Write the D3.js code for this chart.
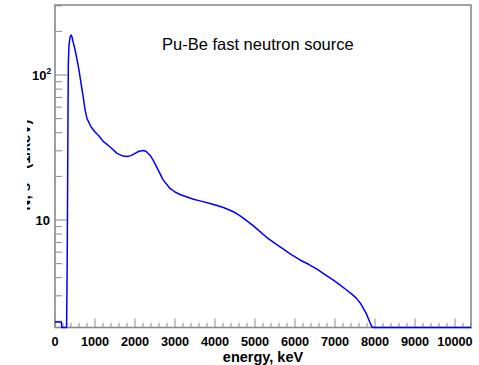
<!DOCTYPE html>
<html><head><meta charset="utf-8">
<script src="https://cdn.jsdelivr.net/npm/d3@7"></script>
<style>body{margin:0;background:#fff}svg{display:block}</style>
</head><body>
<svg id="c" width="479" height="365"></svg>
<script>
const energy = [0,160,170,290,305,320,333,350,375,400,425,450,500,550,600,650,700,750,800,900,1000,1100,1200,1400,1550,1700,1800,1900,2000,2100,2200,2275,2375,2450,2550,2700,2875,3000,3125,3300,3460,3650,3875,4050,4210,4460,4600,4710,4830,4960,5120,5290,5500,5710,5900,6125,6340,6540,6750,6960,7130,7290,7420,7540,7630,7710,7780,7830,7880,7920,7960,8000,10400];
const counts = [1.98,1.98,0,0,5,30,120,160,182,189,183,170,150,128,108,88,72,58,50,44,40.5,38,35,31.5,28.8,27.6,27.4,27.8,28.8,29.8,30.2,29.8,28,26,23,19,16.5,15.6,15,14.4,13.9,13.5,13.0,12.6,12.2,11.4,10.8,10.3,9.7,9.1,8.35,7.6,6.9,6.3,5.8,5.3,4.95,4.6,4.2,3.85,3.55,3.29,3.08,2.88,2.68,2.46,2.27,2.1,1.95,1.84,1.7,0,0];
const xTicks = [0,1000,2000,3000,4000,5000,6000,7000,8000,9000,10000];
const yTickLabels = [{v:10, base:"10", sup:""},{v:100, base:"10", sup:"2"}];
const titleText = "Pu-Be fast neutron source";
const xTitle = "energy, keV";
const yTitle = "N, s\u207B\u00B9 (1/keV)";

const L=55,R=471,T=5,B=327.5;
const xMin=0,xMax=10400,yMin=1.814,yMax=304;
const svg=d3.select("#c");
const x=d3.scaleLinear().domain([xMin,xMax]).range([L,R]);
const y=d3.scaleLog().domain([yMin,yMax]).range([B,T]);
const font="'Liberation Sans', Arial, Helvetica, sans-serif";
const gray="#8a8a8a";

// frame
svg.append("rect").attr("x",L).attr("y",T).attr("width",R-L).attr("height",B-T)
  .attr("fill","none").attr("stroke",gray).attr("stroke-width",1.6);

// x axis ticks
const xMinor=d3.range(xMin,xMax+1,200).filter(v=>v%1000!==0);
const xg=svg.append("g").attr("stroke",gray).attr("stroke-width",1);
xMinor.forEach(v=>xg.append("line").attr("x1",x(v)).attr("x2",x(v)).attr("y1",B).attr("y2",B-4.7));
xTicks.forEach(v=>xg.append("line").attr("x1",x(v)).attr("x2",x(v)).attr("y1",B).attr("y2",B-9));
svg.append("g").selectAll("text").data(xTicks).join("text")
  .attr("x",d=>x(d)).attr("y",346.2).attr("text-anchor","middle")
  .attr("font-family",font).attr("font-weight","bold").attr("font-size",12.7)
  .attr("fill","#000").text(d=>d);

// y axis ticks
const yMinorVals=[];
[1,10,100].forEach(dec=>{for(let k=2;k<=9;k++){const v=k*dec;if(v>=yMin&&v<=yMax)yMinorVals.push(v);}});
const yg=svg.append("g").attr("stroke",gray).attr("stroke-width",1);
yMinorVals.forEach(v=>yg.append("line").attr("x1",L).attr("x2",L+7).attr("y1",y(v)).attr("y2",y(v)));
yTickLabels.forEach(t=>yg.append("line").attr("x1",L).attr("x2",L+12).attr("y1",y(t.v)).attr("y2",y(t.v)));
yTickLabels.forEach(t=>{
  svg.append("text").attr("x",t.sup?46.5:50).attr("y",y(t.v)+4.7).attr("text-anchor","end")
    .attr("font-family",font).attr("font-weight","bold").attr("font-size",13).attr("fill","#000").text(t.base);
  if(t.sup){
    svg.append("text").attr("x",46.5).attr("y",y(t.v)-1.5).attr("text-anchor","start")
      .attr("font-family",font).attr("font-weight","bold").attr("font-size",8.5).attr("fill","#000").text(t.sup);
  }
});

// curve
const data=energy.map((e,i)=>({e,v:Math.max(counts[i],yMin)}));
svg.append("path").datum(data)
  .attr("d",d3.line().x(d=>x(d.e)).y(d=>y(d.v)))
  .attr("fill","none").attr("stroke","#0000ff").attr("stroke-width",1.5).attr("stroke-linejoin","round");

// title
svg.append("text").attr("x",162).attr("y",49.5).attr("font-family",font).attr("font-size",16.5)
  .attr("fill","#000").text(titleText);

// x title
svg.append("text").attr("x",263).attr("y",361.9).attr("text-anchor","middle")
  .attr("font-family",font).attr("font-weight","bold").attr("font-size",14.5).attr("fill","#000").text(xTitle);

// y title (clipped at left as in reference)
const defs=svg.append("defs");
defs.append("clipPath").attr("id","yclip").append("rect").attr("x",27).attr("y",0).attr("width",30).attr("height",365);
svg.append("g").attr("clip-path","url(#yclip)").append("text")
  .attr("transform","translate(30,165) rotate(-90)").attr("text-anchor","middle")
  .attr("font-family",font).attr("font-weight","bold").attr("font-size",15).attr("fill","#000").text(yTitle);
</script>
</body></html>
